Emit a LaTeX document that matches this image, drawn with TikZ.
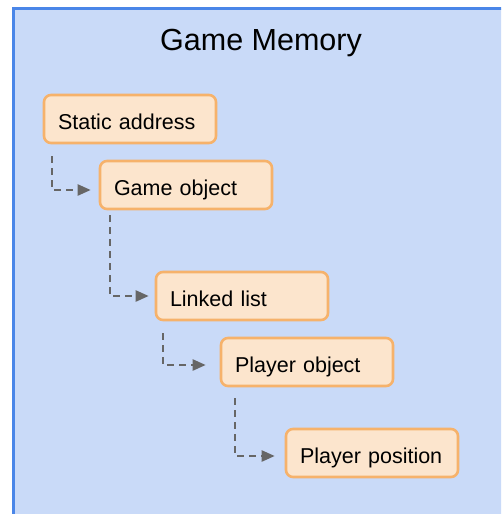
\documentclass[tikz,border=0pt]{standalone}
\usepackage{fontspec}
\setmainfont{Liberation Sans}
\usetikzlibrary{arrows.meta,calc}
\definecolor{bgblue}{HTML}{C9DAF8}
\definecolor{edgeblue}{HTML}{4A86E8}
\definecolor{boxfill}{HTML}{FCE5CD}
\definecolor{boxedge}{HTML}{F6B26B}
\definecolor{conngray}{HTML}{666666}
\begin{document}
\begin{tikzpicture}[x=1pt,y=-1pt,
  membox/.style={draw=boxedge, fill=boxfill, line width=2.6pt, rounded corners=7pt,
    minimum width=172pt, minimum height=48pt, text width=144pt, align=left,
    inner xsep=14pt, text height=20pt, text depth=0pt,
    font=\fontsize{21.5pt}{24pt}\selectfont},
  conn/.style={draw=conngray, line width=2.3pt, dash pattern=on 7pt off 5pt,
    -{Triangle[length=13pt,width=11pt]}}]
\useasboundingbox (0,0) rectangle (501,514);
\clip (0,0) rectangle (501,514);
\draw[fill=bgblue, draw=edgeblue, line width=3pt] (13.5,8.5) rectangle (530,540);
\node[anchor=base, font=\fontsize{30.5pt}{34pt}\selectfont] (title) at (261,50) {Game Memory};
\node[membox] (sa) at (130,119) {Static address};
\node[membox] (go) at (186,185) {Game object};
\node[membox] (ll) at (242,296) {Linked list};
\node[membox] (po) at (307,362) {Player object};
\node[membox] (pp) at (372,453) {Player position};
\draw[conn] ($(sa.south west)+(9,12)$) |- ($(go.west)+(-8,5)$);
\draw[conn] ($(go.south west)+(11,5)$) |- ($(ll.west)+(-6,0)$);
\draw[conn] ($(ll.south west)+(8,12)$) |- ($(po.west)+(-14,3)$);
\draw[conn] ($(po.south west)+(15,11)$) |- ($(pp.west)+(-10,3)$);
\end{tikzpicture}
\end{document}
